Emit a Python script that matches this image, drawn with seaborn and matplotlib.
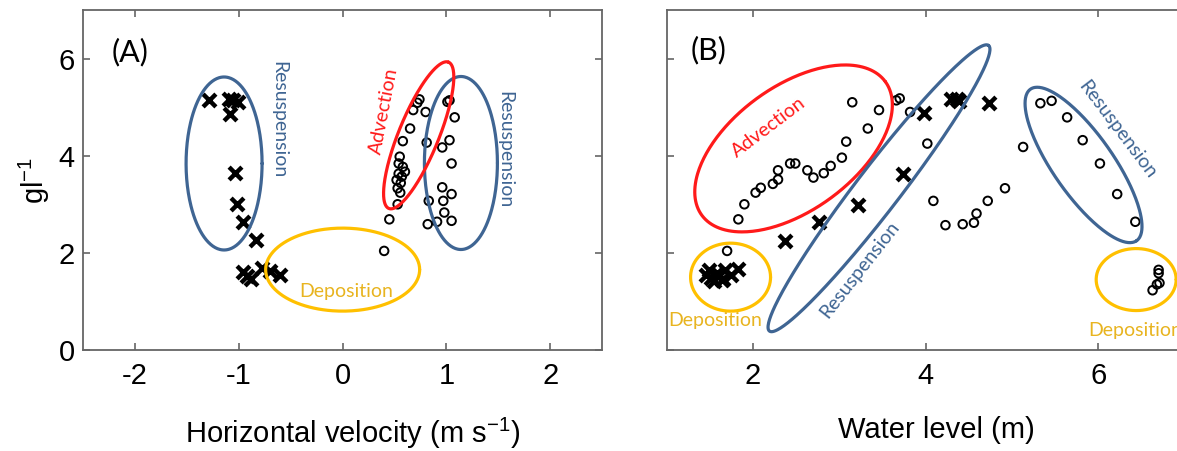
import numpy as np
import matplotlib
matplotlib.use("Agg")
import matplotlib.pyplot as plt
import seaborn as sns

# panel A: horizontal velocity vs concentration
a_cross_x = [-1.29, -1.10, -1.06, -1.01, -1.09, -1.04, -1.02, -0.96, -0.84,
             -0.96, -0.88, -0.78, -0.60, -0.92, -0.70]
a_cross_y = [5.14, 5.16, 5.14, 5.11, 4.85, 3.64, 3.00, 2.64, 2.26,
             1.61, 1.47, 1.68, 1.54, 1.52, 1.62]
a_circ_x = [0.74, 0.72, 0.68, 0.80, 1.01, 1.03, 1.08, 0.65, 0.58, 0.81, 1.03,
            0.96, 1.05, 0.55, 0.54, 0.58, 0.60, 0.54, 0.57, 0.52, 0.56, 0.53,
            0.555, 0.96, 1.05, 0.53, 0.83, 0.97, 0.98, 1.05, 0.82, 0.91, 0.45, 0.40]
a_circ_y = [5.16, 5.09, 4.94, 4.90, 5.11, 5.14, 4.79, 4.56, 4.30, 4.27, 4.32,
            4.17, 3.84, 3.98, 3.84, 3.77, 3.67, 3.63, 3.57, 3.50, 3.44, 3.33,
            3.24, 3.35, 3.21, 3.00, 3.07, 3.07, 2.83, 2.66, 2.59, 2.64, 2.69, 2.04]

# panel B: water level vs concentration
b_cross_x = [2.37, 2.76, 3.22, 3.74, 3.98, 4.30, 4.36, 4.39, 4.74,
             1.49, 1.51, 1.58, 1.64, 1.68, 1.74, 1.83, 1.55, 1.65, 1.45]
b_cross_y = [2.25, 2.64, 2.98, 3.62, 4.87, 5.16, 5.16, 5.13, 5.09,
             1.65, 1.48, 1.58, 1.44, 1.65, 1.54, 1.66, 1.43, 1.47, 1.54]
b_circ_x = [1.83, 1.90, 2.03, 2.09, 2.23, 2.29, 2.29, 2.43, 2.49, 2.63, 2.70,
            2.82, 2.90, 3.03, 3.08, 3.33, 3.15, 3.46, 3.66, 3.70, 3.82, 4.02,
            4.09, 4.23, 4.43, 4.56, 4.59, 4.72, 4.92, 5.13, 5.33, 5.46, 5.64,
            5.82, 6.02, 6.22, 6.43, 1.70, 6.70, 6.70, 6.71, 6.68, 6.63]
b_circ_y = [2.69, 3.00, 3.24, 3.34, 3.42, 3.51, 3.70, 3.84, 3.84, 3.70, 3.55,
            3.64, 3.79, 3.96, 4.29, 4.56, 5.10, 4.94, 5.14, 5.18, 4.90, 4.25,
            3.07, 2.57, 2.59, 2.62, 2.81, 3.07, 3.33, 4.18, 5.08, 5.13, 4.79,
            4.32, 3.84, 3.21, 2.64, 2.04, 1.65, 1.58, 1.38, 1.35, 1.23]

BLUE = "#3f6593"
RED = "#ff1a1a"
GOLD = "#ffc000"
GOLD_TXT = "#e8b420"

# ellipses: (center x, center y, width px, height px, angle deg, colour)
a_ellipses = [(-1.143, 3.84, 76, 173, 0, BLUE), (1.14, 3.85, 73, 173, 0, BLUE),
              (0.0, 1.655, 154, 83, 0, GOLD), (0.733, 4.42, 158, 40, 67.8, RED)]
b_ellipses = [(2.47, 4.15, 227, 124, 36, RED), (3.46, 3.33, 360, 44, 52.5, BLUE),
              (5.83, 3.81, 185, 60, -55, BLUE), (1.74, 1.50, 80, 68, 0, GOLD),
              (6.44, 1.45, 80, 62, 0, GOLD)]
# labels: (x, y, text, rotation, colour)
a_labels = [(-0.615, 4.75, "Resuspension", 270, BLUE), (1.56, 4.12, "Resuspension", 270, BLUE),
            (0.40, 4.93, "Advection", 79, RED), (0.03, 1.20, "Deposition", 0, GOLD_TXT)]
b_labels = [(2.18, 4.59, "Advection", 37, RED), (3.24, 1.65, "Resuspension", 52, BLUE),
            (6.22, 4.53, "Resuspension", -53, BLUE), (1.56, 0.60, "Deposition", 0, GOLD_TXT),
            (6.43, 0.40, "Deposition", 0, GOLD_TXT)]

sns.set_style("ticks")
plt.rcParams["font.family"] = ["Liberation Sans", "DejaVu Sans"]
plt.rcParams["mathtext.fontset"] = "custom"
plt.rcParams["mathtext.rm"] = "Liberation Sans"
plt.rcParams["mathtext.default"] = "regular"
plt.rcParams["axes.unicode_minus"] = False
plt.rcParams["text.color"] = "black"
plt.rcParams["axes.labelcolor"] = "black"

W, H = 1177, 451
fig = plt.figure(figsize=(W / 100, H / 100), dpi=100)
axA = fig.add_axes([83.3 / W, 1 - 350 / H, 518.7 / W, 340 / H])
axB = fig.add_axes([666.7 / W, 1 - 350 / H, 517.8 / W, 340 / H])


def draw_ellipse(ax, cx, cy, w, h, ang, color):
    pos = ax.get_position()
    x0, x1 = ax.get_xlim()
    y0, y1 = ax.get_ylim()
    sx = W * pos.width / (x1 - x0)
    sy = H * pos.height / (y1 - y0)
    t = np.linspace(0, 2 * np.pi, 300)
    th = np.deg2rad(ang)
    px = w / 2 * np.cos(th) * np.cos(t) - h / 2 * np.sin(th) * np.sin(t)
    py = w / 2 * np.sin(th) * np.cos(t) + h / 2 * np.cos(th) * np.sin(t)
    ax.plot(cx + px / sx, cy + py / sy, color=color, lw=2.3)


def panel(ax, cx, cy, ox, oy, xlim, xticks, ellipses, labels, tag, tagpos):
    ax.set_xlim(*xlim)
    ax.set_ylim(0, 7)
    sns.scatterplot(x=ox, y=oy, marker="o", s=38, color="black", linewidth=1.4, ax=ax)
    ax.collections[-1].set_facecolor("none")
    ax.collections[-1].set_edgecolor("black")
    sns.scatterplot(x=cx, y=cy, marker="x", s=85, color="black", linewidth=3.2, ax=ax)
    for e in ellipses:
        draw_ellipse(ax, *e)
    for x, y, s, rot, c in labels:
        ax.text(x, y, s, rotation=rot, color=c, fontsize=14, family="Lato",
                ha="center", va="center")
    ax.text(tagpos[0], tagpos[1], tag, fontsize=22, family="Lato", ha="center", va="center")
    ax.set_xticks(xticks)
    ax.set_yticks([0, 2, 4, 6])
    ax.tick_params(direction="in", length=5, width=1.2, color="#666666", labelcolor="black",
                   top=True, right=True, labelsize=21, pad=9)
    for sp in ax.spines.values():
        sp.set_color("#666666")
        sp.set_linewidth(1.3)


panel(axA, a_cross_x, a_cross_y, a_circ_x, a_circ_y, (-2.5, 2.5), [-2, -1, 0, 1, 2],
      a_ellipses, a_labels, "(A)", (-2.05, 6.14))
panel(axB, b_cross_x, b_cross_y, b_circ_x, b_circ_y, (1, 7), [2, 4, 6],
      b_ellipses, b_labels, "(B)", (1.49, 6.17))
axB.tick_params(labelleft=False)
axA.tick_params(axis="y", pad=6)

axA.set_xlabel("Horizontal velocity (m s$^{-1}$)", fontsize=21)
axB.set_xlabel("Water level (m)", fontsize=21)
axA.xaxis.set_label_coords(0.52, -0.195)
axB.xaxis.set_label_coords(0.52, -0.195)
axA.set_ylabel("gl$^{-1}$", fontsize=21)
axA.yaxis.set_label_coords(-0.06, 0.5)

fig.savefig("out.png", dpi=100)
